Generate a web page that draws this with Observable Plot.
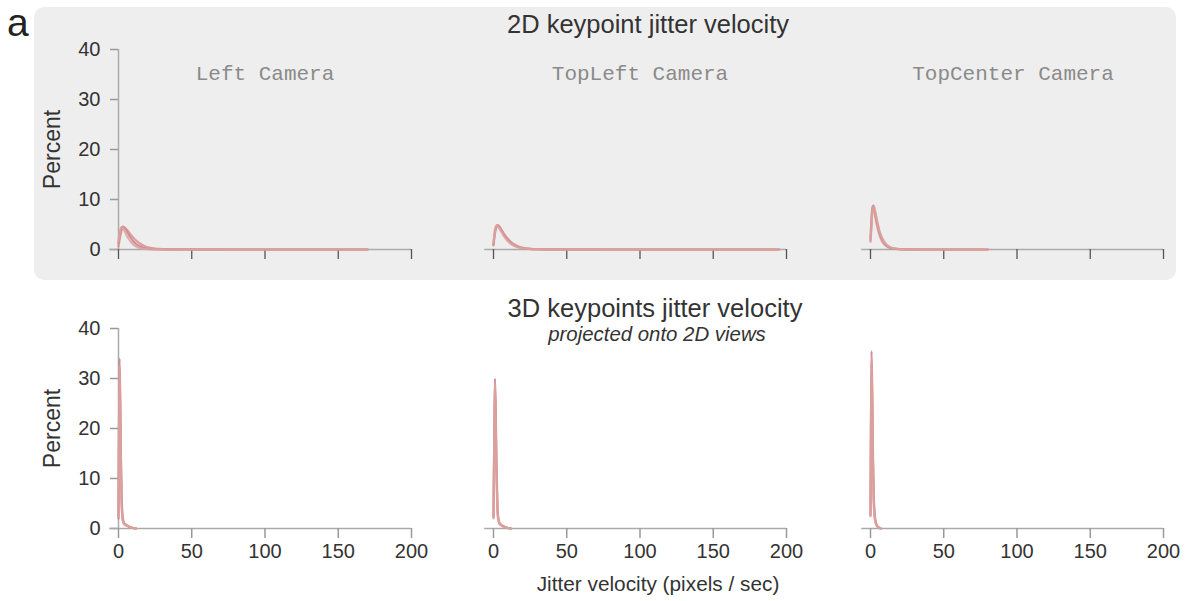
<!DOCTYPE html>
<html>
<head>
<meta charset="utf-8">
<script src="https://cdn.jsdelivr.net/npm/d3@7"></script>
<script src="https://cdn.jsdelivr.net/npm/@observablehq/plot@0.6"></script>
<style>
  html, body { margin: 0; padding: 0; background: #ffffff; }
  #root { position: relative; width: 1189px; height: 601px; overflow: hidden; font-family: "Liberation Sans", Arial, sans-serif; color: #333; }
  .abs { position: absolute; }
  .bg { left: 34px; top: 7px; width: 1142px; height: 273px; border-radius: 10px; background: #eeeeee; }
  .title { font-size: 25.5px; white-space: nowrap; transform: translate(-50%, -50%); }
  .sub { font-size: 20.4px; font-style: italic; white-space: nowrap; transform: translate(-50%, -50%); }
  .letter { font-family: "Liberation Sans", Arial, sans-serif; font-size: 39px; left: 7px; top: 1px; color: #222; }
  svg { overflow: visible; }
</style>
</head>
<body>
<div id="root">
  <div class="abs bg"></div>
  <div class="abs letter">a</div>
  <div class="abs title" style="left:648px; top:24px;">2D keypoint jitter velocity</div>
  <div class="abs title" style="left:655px; top:308px;">3D keypoints jitter velocity</div>
  <div class="abs sub" style="left:657px; top:334px;">projected onto 2D views</div>
  <div class="abs title" style="left:658px; top:584px; font-size:20.8px;">Jitter velocity (pixels / sec)</div>
</div>
<script>
// ---- Data ----
const cameras = ["Left Camera", "TopLeft Camera", "TopCenter Camera"];
const xTicks = [0, 50, 100, 150, 200];
const yTicks = [0, 10, 20, 30, 40];
const seriesColors = ["#c97d8c", "#d6918f", "#dca39f"];

// 2D keypoint jitter velocity (Percent vs velocity)
const TL_x = [0, 1, 2, 3, 4, 5, 6, 7, 8, 10, 12, 14, 17, 20, 25, 30, 40, 60, 90, 120, 150, 170];
const TL_a = [1.2, 3.2, 4.3, 4.6, 4.4, 4.0, 3.5, 3.0, 2.5, 1.7, 1.1, 0.7, 0.35, 0.18, 0.07, 0.03, 0.01, 0, 0, 0, 0, 0];
const TL_b = [0.6, 2.3, 3.7, 4.3, 4.4, 4.2, 3.9, 3.5, 3.1, 2.4, 1.8, 1.3, 0.8, 0.45, 0.2, 0.09, 0.03, 0.01, 0, 0, 0, 0];
const TL_c = [1.8, 3.7, 4.5, 4.3, 3.8, 3.2, 2.6, 2.1, 1.7, 1.0, 0.6, 0.35, 0.15, 0.07, 0.03, 0.01, 0, 0, 0, 0, 0, 0];

const TM_x = [0, 1, 2, 3, 4, 5, 6, 7, 8, 10, 12, 14, 17, 20, 25, 30, 40, 60, 100, 150, 195];
const TM_a = [1.0, 3.6, 4.7, 4.9, 4.6, 4.1, 3.6, 3.1, 2.6, 1.9, 1.3, 0.9, 0.5, 0.28, 0.11, 0.05, 0.01, 0, 0, 0, 0];
const TM_b = [0.8, 3.2, 4.4, 4.7, 4.5, 4.1, 3.7, 3.2, 2.8, 2.1, 1.5, 1.05, 0.6, 0.33, 0.14, 0.06, 0.02, 0.01, 0, 0, 0];
const TM_c = [1.4, 3.9, 4.8, 4.6, 4.2, 3.7, 3.2, 2.7, 2.3, 1.6, 1.1, 0.75, 0.4, 0.22, 0.09, 0.04, 0.01, 0, 0, 0, 0];

const TR_x = [0, 0.5, 1, 1.5, 2, 2.5, 3, 4, 5, 6, 7, 8, 10, 12, 15, 20, 25, 30, 40, 50, 65, 80];
const TR_a = [1.8, 4.5, 7.2, 8.6, 8.8, 8.4, 7.7, 6.2, 4.8, 3.6, 2.7, 2.0, 1.1, 0.6, 0.25, 0.07, 0.02, 0.01, 0, 0, 0, 0];
const TR_b = [2.4, 5.2, 7.6, 8.4, 8.2, 7.6, 6.9, 5.4, 4.1, 3.0, 2.2, 1.6, 0.85, 0.45, 0.18, 0.05, 0.01, 0, 0, 0, 0, 0];
const TR_c = [1.5, 3.8, 6.4, 7.9, 8.5, 8.3, 7.8, 6.5, 5.1, 3.9, 3.0, 2.3, 1.3, 0.75, 0.3, 0.09, 0.03, 0.01, 0, 0, 0, 0];

// 3D keypoints jitter velocity projected onto 2D views
const BL_x = [0, 0.3, 0.7, 1.2, 1.7, 2.2, 3, 4, 5, 6, 8, 10, 12];
const BL_a = [2.0, 18, 34, 26, 14, 6, 2.0, 1.0, 0.8, 0.6, 0.3, 0.1, 0];
const BL_b = [2.8, 16, 31, 24, 12, 5, 1.6, 0.9, 0.7, 0.5, 0.25, 0.08, 0];
const BL_c = [2.4, 19, 32.5, 22, 10, 4, 1.4, 0.8, 0.6, 0.5, 0.3, 0.1, 0];

const BM_x = [0, 0.4, 1.0, 1.5, 2, 2.5, 3, 4, 5, 6, 8, 10, 12];
const BM_a = [2.2, 15, 30, 24, 14, 7, 3, 1.2, 0.8, 0.6, 0.3, 0.1, 0];
const BM_b = [2.6, 14, 28, 22, 12, 6, 2.5, 1.0, 0.7, 0.5, 0.25, 0.08, 0];
const BM_c = [2.0, 16, 29, 21, 11, 5, 2.2, 1.0, 0.7, 0.5, 0.3, 0.1, 0];

const BR_x = [0, 0.3, 0.7, 1.2, 1.7, 2.2, 3, 4, 5, 6, 7];
const BR_a = [2.6, 20, 35.5, 27, 15, 7, 2.5, 0.9, 0.4, 0.15, 0];
const BR_b = [3.0, 18, 33, 25, 13, 6, 2.0, 0.8, 0.3, 0.1, 0];
const BR_c = [2.4, 19, 34, 24, 12, 5, 1.8, 0.7, 0.3, 0.1, 0];

// ---- Build & draw ----
function rows(xs, series) {
  return series.flatMap((ys, s) => xs.map((x, j) => ({x, y: ys[j], s})));
}

const panels = [
  {row: 0, col: 0, data: rows(TL_x, [TL_a, TL_b, TL_c]), label: cameras[0]},
  {row: 0, col: 1, data: rows(TM_x, [TM_a, TM_b, TM_c]), label: cameras[1]},
  {row: 0, col: 2, data: rows(TR_x, [TR_a, TR_b, TR_c]), label: cameras[2]},
  {row: 1, col: 0, data: rows(BL_x, [BL_a, BL_b, BL_c])},
  {row: 1, col: 1, data: rows(BM_x, [BM_a, BM_b, BM_c])},
  {row: 1, col: 2, data: rows(BR_x, [BR_a, BR_b, BR_c])}
];

const colLeft = [0, 463, 840];
const colMarginLeft = [118, 30, 30];
const labelDx = [0, 0, -4];
const frameW = 293;
const rowTop = [39, 318];

const root = document.getElementById("root");

for (const p of panels) {
  const isLeft = p.col === 0;
  const isBottom = p.row === 1;
  const mL = colMarginLeft[p.col];
  const mR = 15;
  const mT = 10;
  const mB = isBottom ? 40 : 20;
  const marks = [];
  if (isLeft) {
    marks.push(Plot.ruleX([0], {y1: 0, y2: 40, stroke: "#aaaaaa", strokeWidth: 1.5}));
    marks.push(Plot.axisY({ticks: yTicks, tickSize: 8, tickPadding: 10, fontSize: 20, fill: "#333", stroke: "#999", strokeWidth: 1.5, label: null}));
    marks.push(Plot.text(["Percent"], {frameAnchor: "left", textAnchor: "middle", lineAnchor: "middle", dx: -66, rotate: -90, fontSize: 23, fill: "#333"}));
  }
  marks.push(Plot.ruleY([0], {x1: -6, x2: 200, stroke: "#aaaaaa", strokeWidth: 1.5}));
  if (isBottom) {
    marks.push(Plot.axisX({ticks: xTicks, tickSize: 10, tickPadding: 5, fontSize: 20, fill: "#333", stroke: "#999", strokeWidth: 1.5, label: null}));
  } else {
    marks.push(Plot.axisX({ticks: xTicks, tickSize: 10, tickFormat: () => "", stroke: "#555", strokeWidth: 1.3, label: null}));
    marks.push(Plot.text([p.label], {frameAnchor: "top", lineAnchor: "middle", textAnchor: "middle", dy: 24, dx: labelDx[p.col], fontFamily: "Liberation Mono, monospace", fontSize: 21, fill: "#8a8a8a"}));
  }
  marks.push(Plot.line(p.data, {x: "x", y: "y", z: "s", stroke: "s", strokeWidth: 2.2, strokeOpacity: 0.85, curve: "monotone-x"}));

  const chart = Plot.plot({
    width: mL + frameW + mR,
    height: mT + 200 + mB,
    marginLeft: mL, marginRight: mR, marginTop: mT, marginBottom: mB,
    x: {domain: [0, 200], axis: null},
    y: {domain: [0, 40], axis: null},
    color: {type: "ordinal", domain: [0, 1, 2], range: seriesColors},
    style: {fontFamily: "Liberation Sans, Arial, sans-serif", fontSize: "20px", color: "#333", background: "transparent", overflow: "visible"},
    marks
  });
  chart.style.position = "absolute";
  chart.style.left = colLeft[p.col] + "px";
  chart.style.top = rowTop[p.row] + "px";
  chart.style.maxWidth = "none";
  root.appendChild(chart);
}
</script>
</body>
</html>
